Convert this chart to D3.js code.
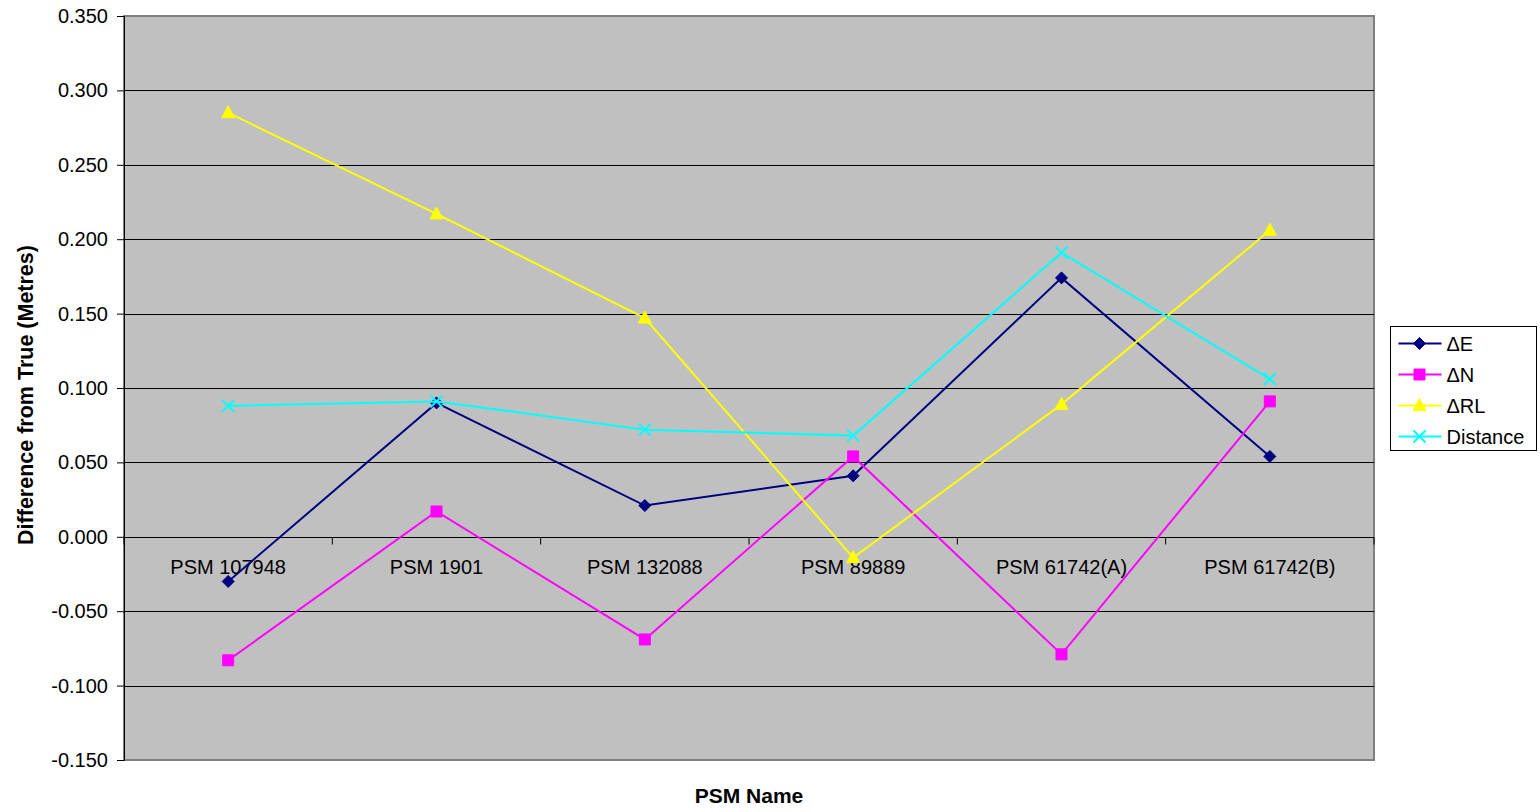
<!DOCTYPE html>
<html>
<head>
<meta charset="utf-8">
<script src="https://cdn.jsdelivr.net/npm/d3@7"></script>
<style>
  html, body { margin: 0; padding: 0; background: #fff; }
  svg { display: block; font-family: "Liberation Sans", Arial, sans-serif; }
</style>
</head>
<body>
<svg id="chart" width="1540" height="812"></svg>
<script>
// Survey mark names along the category axis
const categories = ["PSM 107948", "PSM 1901", "PSM 132088", "PSM 89889", "PSM 61742(A)", "PSM 61742(B)"];

// Differences from true coordinates, in metres
const deltaE   = [-0.030, 0.090, 0.021, 0.041, 0.174, 0.054];
const deltaN   = [-0.083, 0.017, -0.069, 0.054, -0.079, 0.091];
const deltaRL  = [0.285, 0.217, 0.147, -0.014, 0.089, 0.206];
const distance = [0.088, 0.091, 0.072, 0.068, 0.191, 0.106];

const yTicks = [-0.15, -0.10, -0.05, 0, 0.05, 0.10, 0.15, 0.20, 0.25, 0.30, 0.35];

const seriesNames = ["\u0394E", "\u0394N", "\u0394RL", "Distance"];
const seriesColors = ["#000080", "#FF00FF", "#FFFF00", "#00FFFF"];
const seriesShapes = ["diamond", "square", "triangle", "cross"];
const seriesValues = [deltaE, deltaN, deltaRL, distance];

const svg = d3.select("#chart");
const plot = { left: 124, right: 1374, top: 16, bottom: 760 };

const x = d3.scaleBand().domain(categories).range([plot.left, plot.right]).padding(0);
const y = d3.scaleLinear().domain([-0.15, 0.35]).range([plot.bottom, plot.top]);

// plot background
svg.append("rect")
  .attr("x", plot.left).attr("y", plot.top)
  .attr("width", plot.right - plot.left).attr("height", plot.bottom - plot.top)
  .attr("fill", "#C0C0C0").attr("stroke", "#808080").attr("stroke-width", 2);

// horizontal gridlines
svg.append("g").selectAll("line").data(yTicks.filter(t => t !== 0 && t !== 0.35 && t !== -0.15))
  .join("line")
  .attr("x1", plot.left).attr("x2", plot.right)
  .attr("y1", d => Math.round(y(d)) + 0.5).attr("y2", d => Math.round(y(d)) + 0.5)
  .attr("stroke", "#000").attr("stroke-width", 1);

// value axis (plain hyphen for negatives)
const fmt = d3.format(".3f");
const yAxis = svg.append("g")
  .attr("transform", `translate(${plot.left},0)`)
  .call(d3.axisLeft(y).tickValues(yTicks)
    .tickFormat(d => fmt(d).replace("\u2212", "-"))
    .tickSize(7).tickPadding(9));
yAxis.select(".domain").attr("stroke", "#000").attr("stroke-width", 1);
yAxis.selectAll(".tick line").attr("stroke", "#000");
yAxis.selectAll("text").attr("font-size", 20).attr("fill", "#000")
  .attr("font-family", "'Liberation Sans', Arial, sans-serif");

// category axis along the zero line
const zeroY = Math.round(y(0)) + 0.5;
svg.append("line")
  .attr("x1", plot.left).attr("x2", plot.right)
  .attr("y1", zeroY).attr("y2", zeroY)
  .attr("stroke", "#000").attr("stroke-width", 1);
const boundaries = categories.map(c => x(c)).concat([plot.right]);
svg.append("g").selectAll("line").data(boundaries)
  .join("line")
  .attr("x1", d => d).attr("x2", d => d)
  .attr("y1", zeroY).attr("y2", zeroY + 7)
  .attr("stroke", "#000");
svg.append("g").selectAll("text").data(categories)
  .join("text")
  .attr("x", d => x(d) + x.bandwidth() / 2)
  .attr("y", zeroY + 36)
  .attr("text-anchor", "middle")
  .attr("font-size", 20)
  .text(d => d);

// axis titles
svg.append("text")
  .attr("x", (plot.left + plot.right) / 2).attr("y", 803)
  .attr("text-anchor", "middle").attr("font-size", 21).attr("font-weight", "bold")
  .text("PSM Name");
svg.append("text")
  .attr("transform", `translate(33,395) rotate(-90)`)
  .attr("text-anchor", "middle").attr("font-size", 21.5).attr("font-weight", "bold")
  .text("Difference from True (Metres)");

// marker path generator
function markerPath(shape) {
  if (shape === "diamond") return "M0,-6L6,0L0,6L-6,0Z";
  if (shape === "square") return "M-5.5,-5.5H5.5V5.5H-5.5Z";
  if (shape === "triangle") return "M0,-7L6.5,5H-6.5Z";
  return "M-6,-6L6,6M-6,6L6,-6";
}
function drawMarker(g, shape, color) {
  const p = g.append("path").attr("d", markerPath(shape));
  if (shape === "cross") p.attr("fill", "none").attr("stroke", color).attr("stroke-width", 2);
  else p.attr("fill", color).attr("stroke", color).attr("stroke-width", 1);
}

const line = d3.line()
  .x((d, i) => x(categories[i]) + x.bandwidth() / 2)
  .y(d => y(d));

seriesValues.forEach((vals, s) => {
  const g = svg.append("g");
  g.append("path").datum(vals)
    .attr("d", line)
    .attr("fill", "none").attr("stroke", seriesColors[s]).attr("stroke-width", 2);
  vals.forEach((v, i) => {
    const m = g.append("g")
      .attr("transform", `translate(${x(categories[i]) + x.bandwidth() / 2},${y(v)})`);
    drawMarker(m, seriesShapes[s], seriesColors[s]);
  });
});

// legend
const legend = svg.append("g").attr("transform", "translate(1390.5,326.5)");
legend.append("rect").attr("width", 146).attr("height", 124)
  .attr("fill", "#fff").attr("stroke", "#000").attr("stroke-width", 1);
seriesNames.forEach((name, s) => {
  const row = legend.append("g").attr("transform", `translate(0,${17 + s * 31})`);
  row.append("line").attr("x1", 8).attr("x2", 51).attr("y1", 0).attr("y2", 0)
    .attr("stroke", seriesColors[s]).attr("stroke-width", 2);
  const m = row.append("g").attr("transform", "translate(29,0)");
  drawMarker(m, seriesShapes[s], seriesColors[s]);
  row.append("text").attr("x", 56).attr("y", 7).attr("font-size", 20).text(name);
});
</script>
</body>
</html>
